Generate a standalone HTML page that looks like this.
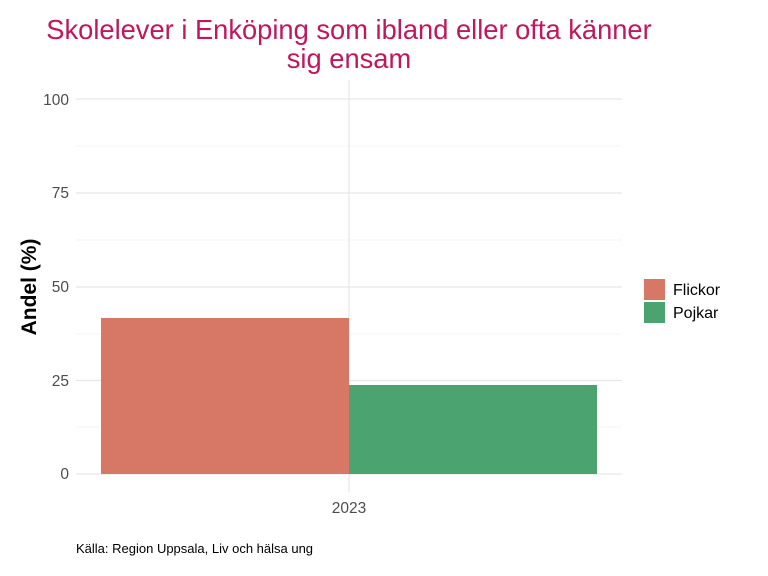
<!DOCTYPE html>
<html><head><meta charset="utf-8"><style>
body{margin:0;background:#fff;}
svg{display:block;font-family:"Liberation Sans",sans-serif;}
</style></head><body>
<svg width="768" height="576" xmlns="http://www.w3.org/2000/svg">
<rect width="768" height="576" fill="#fff"/>
<g stroke="#ebebeb" stroke-width="0.6">
<line x1="76" x2="622" y1="427" y2="427"/><line x1="76" x2="622" y1="334" y2="334"/>
<line x1="76" x2="622" y1="240" y2="240"/><line x1="76" x2="622" y1="146" y2="146"/>
</g>
<g stroke="#e6e6e6" stroke-width="1.2">
<line x1="76" x2="622" y1="474" y2="474"/><line x1="76" x2="622" y1="380.5" y2="380.5"/>
<line x1="76" x2="622" y1="287" y2="287"/><line x1="76" x2="622" y1="193" y2="193"/>
<line x1="76" x2="622" y1="99" y2="99"/><line x1="349" x2="349" y1="80" y2="492"/>
</g>
<rect x="101" y="318" width="248" height="156" fill="#D77867"/>
<rect x="349" y="385" width="248" height="89" fill="#4BA370"/>
<g font-size="15.5" fill="#4d4d4d" text-anchor="end">
<text x="69" y="479">0</text><text x="69" y="386">25</text><text x="69" y="292">50</text>
<text x="69" y="198">75</text><text x="69" y="105">100</text>
</g>
<text x="349" y="513" font-size="15.5" fill="#4d4d4d" text-anchor="middle">2023</text>
<text transform="translate(36,287) rotate(-90)" font-size="21" font-weight="bold" text-anchor="middle">Andel (%)</text>
<text x="349" y="39" font-size="27.3" fill="#C0175D" text-anchor="middle">Skolelever i Enköping som ibland eller ofta känner</text>
<text x="349" y="68" font-size="27.3" fill="#C0175D" text-anchor="middle">sig ensam</text>
<rect x="644" y="279" width="21" height="21" fill="#D77867"/>
<rect x="644" y="302" width="21" height="21" fill="#4BA370"/>
<text x="673" y="295" font-size="16">Flickor</text>
<text x="673" y="318" font-size="16">Pojkar</text>
<text x="76" y="553" font-size="13">Källa: Region Uppsala, Liv och hälsa ung</text>
</svg>
</body></html>
